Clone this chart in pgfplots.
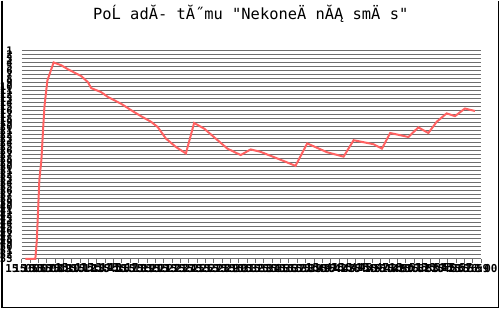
\documentclass[border=0pt]{standalone}
\usepackage{pgfplots}
\pgfplotsset{compat=1.18}
\usepackage{fontspec}
\newfontfamily\monofont{DejaVu Sans Mono}
\definecolor{gridgray}{HTML}{6E6E6E}
\definecolor{linered}{HTML}{FF6262}
\begin{document}
\begin{tikzpicture}[x=1bp,y=1bp]
\path (0,0) rectangle (500,309);
\draw[black,line width=1.2bp] (0.6,309) -- (0.6,0.8) -- (498.6,0.8) -- (498.6,309);
\node[font=\monofont\fontsize{15.5}{16}\selectfont] at (250,296) {PoĹ adĂ- tĂ˝mu "NekoneÄ nĂĄ smÄ s"};
\begin{axis}[
  at={(20.3bp,50bp)}, anchor=south west, scale only axis,
  width=460.7bp, height=209bp,
  xmin=0, xmax=55, ymin=1, ymax=53, y dir=reverse,
  /pgf/number format/assume math mode=true,
  axis x line*=bottom, axis y line*=left,
  x axis line style={gridgray, line width=1.2bp},
  y axis line style={draw=none},
  ytick={1,...,53},
  ymajorgrids, grid style={gridgray, line width=1.3bp},
  ytick style={draw=none},
  yticklabel style={font=\monofont\bfseries\fontsize{10.5}{10.5}\selectfont, inner sep=0pt, xshift=-5bp},
  xtick={0,...,55},
  xticklabels={15:05,15:06,15:07,15:08,15:09,15:10,15:11,15:12,15:13,15:14,15:15,15:16,15:17,15:18,15:19,15:20,15:21,15:22,15:23,15:24,15:25,15:26,15:27,15:28,15:29,15:30,15:31,15:32,15:33,15:34,15:35,15:36,15:37,15:38,15:39,15:40,15:41,15:42,15:43,15:44,15:45,15:46,15:47,15:48,15:49,15:50,15:51,15:52,15:53,15:54,15:55,15:56,15:57,15:58,15:59,16:00},
  xtick style={gridgray, line width=1bp},
  tick align=outside, major tick length=4bp,
  xticklabel style={font=\monofont\bfseries\fontsize{11}{11}\selectfont, inner sep=1bp},
  clip=false,
]
\addplot[linered, line width=2bp] coordinates {
(0.44,53) (1.63,53) (1.81,48.3) (2.11,33.3) (2.35,28.4) (2.71,15.2) (3.07,8.5)
(3.82,4.0) (4.74,4.7) (5.54,5.7) (7.12,7.4) (7.92,8.9) (8.32,10.4) (9.51,11.4)
(10.31,12.6) (11.90,14.3) (13.09,15.9) (14.28,17.4) (15.48,18.8) (16.28,20.1)
(17.27,23.0) (18.47,25.1) (19.66,26.7) (20.64,19.1) (21.84,20.5) (24.63,25.5)
(26.22,27.1) (27.41,25.7) (28.60,26.3) (31.38,28.6) (32.78,29.8) (34.18,24.2)
(36.56,26.4) (38.54,27.5) (39.74,23.4) (42.12,24.4) (43.13,25.5) (44.12,21.6)
(46.30,22.6) (47.49,20.2) (48.69,21.6) (49.69,18.8) (50.88,16.7) (51.87,17.4)
(53.06,15.5) (54.26,16.1)
};
\end{axis}
\end{tikzpicture}
\end{document}
